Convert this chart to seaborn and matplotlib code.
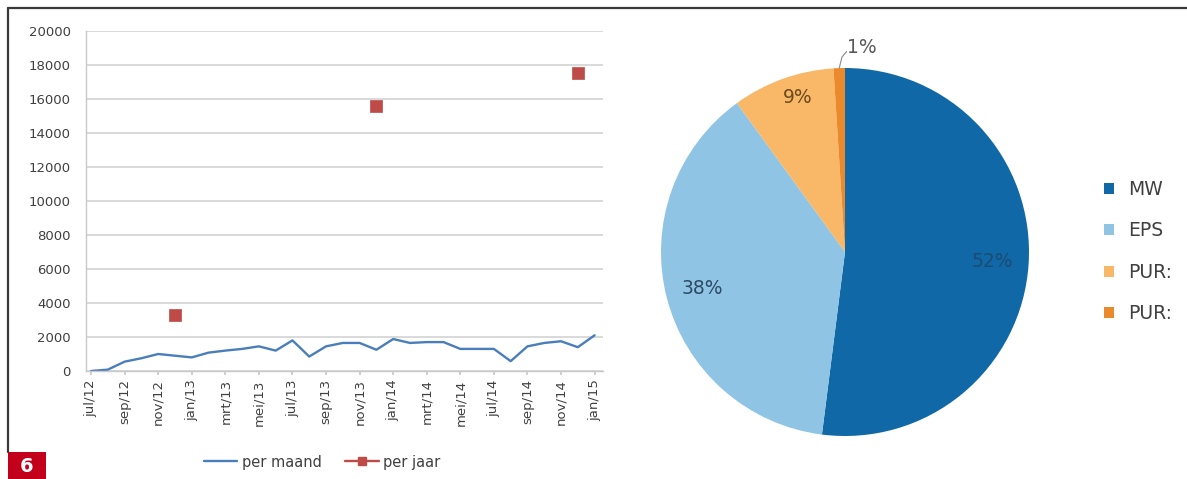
import matplotlib
matplotlib.use("Agg")
import matplotlib.pyplot as plt
from matplotlib.lines import Line2D
from matplotlib.patches import Patch, Rectangle
import numpy as np
import pandas as pd
import seaborn as sns

# Monthly series, jul/12 .. jan/15
maanden = [
    "jul/12", "aug/12", "sep/12", "okt/12", "nov/12", "dec/12",
    "jan/13", "feb/13", "mrt/13", "apr/13", "mei/13", "jun/13",
    "jul/13", "aug/13", "sep/13", "okt/13", "nov/13", "dec/13",
    "jan/14", "feb/14", "mrt/14", "apr/14", "mei/14", "jun/14",
    "jul/14", "aug/14", "sep/14", "okt/14", "nov/14", "dec/14",
    "jan/15",
]
per_maand = [
    0, 80, 550, 750, 1000, 900,
    800, 1080, 1200, 1300, 1450, 1200,
    1800, 850, 1450, 1650, 1650, 1250,
    1880, 1650, 1700, 1700, 1300, 1300,
    1300, 580, 1450, 1650, 1750, 1400,
    2100,
]

# Yearly totals, plotted at the last month of each year
jaar_maanden = ["dec/12", "dec/13", "dec/14"]
per_jaar = [3300, 15600, 17550]

# Share per insulation material
materialen = ["MW", "EPS", "PUR:", "PUR:"]
aandelen = [52, 38, 9, 1]
pie_kleuren = ["#1069a6", "#8fc4e4", "#f8b868", "#ea8a2c"]
pct_kleuren = ["#1c4b73", "#2d4a63", "#6a4a1e", "#595959"]

sns.set_theme(style="white")
plt.rcParams["font.family"] = ["DejaVu Sans"]

W, H = 1187, 479
fig = plt.figure(figsize=(W / 100, H / 100), dpi=100)
fig.patch.set_facecolor("white")

# ---- line chart -------------------------------------------------------
ax1 = fig.add_axes([86 / W, 1 - 371 / H, (603 - 86) / W, (371 - 31) / H])
df = pd.DataFrame({"pos": np.arange(len(maanden)), "maand": maanden, "waarde": per_maand})
blauw = "#4a7ebb"
rood = "#be4b48"
sns.lineplot(data=df, x="pos", y="waarde", ax=ax1, color=blauw, linewidth=1.7)
jaar_pos = [maanden.index(m) for m in jaar_maanden]
sns.scatterplot(x=jaar_pos, y=per_jaar, ax=ax1, marker="s", s=80,
                color=rood, edgecolor=rood, linewidth=0.5, zorder=5)

ax1.set_ylim(0, 20000)
ax1.set_xlim(-0.3, len(maanden) - 0.5)
ax1.set_yticks(range(0, 20001, 2000))
ax1.set_xticks(range(0, len(maanden), 2))
ax1.set_xticklabels(maanden[::2], rotation=90)
ax1.set_xlabel("")
ax1.set_ylabel("")
ax1.yaxis.grid(True, color="#d9d9d9", linewidth=1.4)
ax1.xaxis.grid(False)
for s in ["top", "right"]:
    ax1.spines[s].set_visible(False)
for s in ["left", "bottom"]:
    ax1.spines[s].set_color("#c8c8c8")
    ax1.spines[s].set_linewidth(1.0)
ax1.tick_params(axis="y", length=0, pad=11, labelsize=9.5, labelcolor="#404040")
ax1.tick_params(axis="x", length=3, color="#c8c8c8", pad=3, labelsize=9.5,
                labelcolor="#404040", bottom=True)

lijn_handles = [
    Line2D([0], [0], color=blauw, linewidth=1.7),
    Line2D([0], [0], color=rood, linewidth=1.7, marker="s", markersize=6),
]
fig.legend(lijn_handles, ["per maand", "per jaar"], loc="center",
           bbox_to_anchor=(322 / W, 1 - 462 / H), ncol=2, frameon=False,
           fontsize=10.5, handlelength=2.3, handletextpad=0.3, columnspacing=1.6,
           labelcolor="#404040")

# ---- pie chart --------------------------------------------------------
ax2 = fig.add_axes([661 / W, 1 - 436 / H, 368 / W, 368 / H])
wedges, _, pct = ax2.pie(
    aandelen, colors=pie_kleuren, startangle=90, counterclock=False,
    autopct=lambda p: f"{p:.0f}%", pctdistance=0.8,
    wedgeprops=dict(linewidth=0), textprops=dict(fontsize=13.5),
)
for t, c in zip(pct, pct_kleuren):
    t.set_color(c)

# the narrow PUR slice label sits a little further out
w = wedges[2]
mid = np.deg2rad((w.theta1 + w.theta2) / 2)
pct[2].set_position((0.87 * np.cos(mid) + 0.04, 0.87 * np.sin(mid) + 0.02))

# smallest slice gets its label outside the pie with a short leader line
w = wedges[-1]
mid = np.deg2rad((w.theta1 + w.theta2) / 2)
x0, y0 = np.cos(mid), np.sin(mid)
pct[-1].set_position((x0 + 0.04, 1.11))
pct[-1].set_ha("left")
pct[-1].set_va("center")
ax2.plot([x0, x0 + 0.015, x0 + 0.04], [y0, y0 + 0.06, 1.09],
         color="#8a8a8a", linewidth=0.8, clip_on=False)
ax2.set_xlim(-1, 1)
ax2.set_ylim(-1, 1)

pie_handles = [Patch(facecolor=c, edgecolor="none") for c in pie_kleuren]
fig.legend(pie_handles, materialen, loc="upper left",
           bbox_to_anchor=(1087 / W, 1 - 163 / H), frameon=False,
           fontsize=13.5, handlelength=0.55, handleheight=0.55,
           handletextpad=0.75, labelspacing=1.2, labelcolor="#404040")

# ---- frame and figure number -----------------------------------------
fig.add_artist(Line2D([8 / W, 1], [1 - 8 / H, 1 - 8 / H], transform=fig.transFigure,
                      color="#3a3a3a", linewidth=1.6))
fig.add_artist(Line2D([8 / W, 8 / W], [1 - 452 / H, 1 - 8 / H], transform=fig.transFigure,
                      color="#3a3a3a", linewidth=1.6))
fig.add_artist(Rectangle((8 / W, 0), 38 / W, 27 / H, transform=fig.transFigure,
                         facecolor="#c3001c", edgecolor="none"))
fig.text(27 / W, 13 / H, "6", color="white", fontsize=14, fontweight="bold",
         ha="center", va="center")

fig.savefig("out.png", dpi=100)
